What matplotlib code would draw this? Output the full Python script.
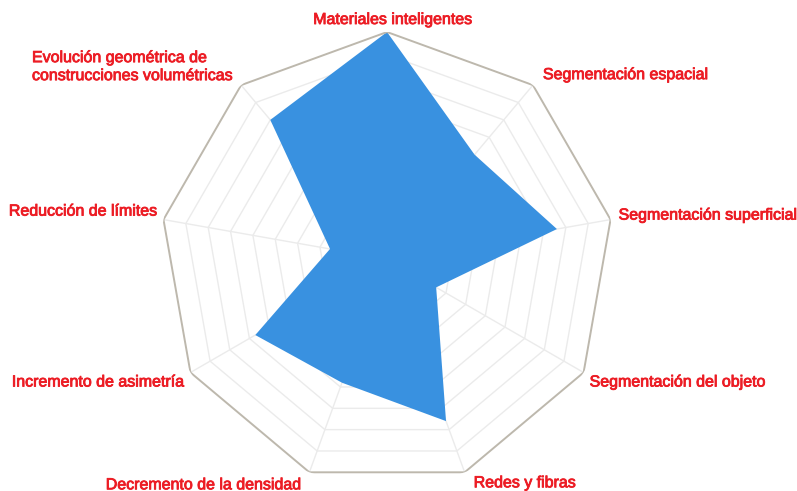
import numpy as np
import matplotlib
matplotlib.use("Agg")
import matplotlib.pyplot as plt
import matplotlib.patheffects as pe

categories = [
    "Materiales inteligentes",
    "Segmentación espacial",
    "Segmentación superficial",
    "Segmentación del objeto",
    "Redes y fibras",
    "Decremento de la densidad",
    "Incremento de asimetría",
    "Reducción de límites",
    "Evolución geométrica de\nconstrucciones volumétricas",
]
values = [10.0, 6.0, 7.6, 2.5, 7.6, 5.8, 6.7, 2.55, 8.0]
levels = list(range(1, 11))
max_value = 10

# label placement (ha, va, dx px, dy px)
label_style = [
    ("center", "baseline", 6, 8),
    ("left", "baseline", 10, 6),
    ("left", "baseline", 8, 0),
    ("left", "baseline", 6, -14),
    ("left", "baseline", 9, -15),
    ("right", "baseline", -8, -17),
    ("right", "baseline", -6, -14),
    ("right", "baseline", -6, 4),
    ("right", "baseline", -8, 5),
]

plt.rcParams["font.family"] = ["Liberation Sans", "DejaVu Sans"]

fig = plt.figure(figsize=(7.97, 4.91), dpi=100)
ax = fig.add_axes([0.2008, 0.0102, 0.5696, 0.9246], projection="polar")
ax.set_theta_zero_location("N")
ax.set_theta_direction(-1)

n = len(categories)
theta = np.linspace(0, 2 * np.pi, n, endpoint=False)
theta_c = np.concatenate([theta, theta[:1]])

# grid rings
for lv in levels:
    if lv == max_value:
        ax.plot(theta_c, [lv] * (n + 1), color="#bdb8ad", lw=1.4, zorder=3)
    else:
        ax.plot(theta_c, [lv] * (n + 1), color="#ebebeb", lw=1.0, zorder=1)
# spokes
for t in theta:
    ax.plot([t, t], [0, max_value], color="#ebebeb", lw=1.0, zorder=1)

vals_c = values + values[:1]
ax.fill(theta_c, vals_c, color="#3991e0", lw=0, zorder=2)

ax.set_ylim(0, max_value)
ax.set_xticks([])
ax.set_yticks([])
ax.grid(False)
ax.spines["polar"].set_visible(False)
ax.patch.set_visible(False)

txt_color = "#ec1c24"
for t, lab, (ha, va, dx, dy) in zip(theta, categories, label_style):
    ax.annotate(lab, xy=(t, max_value), xytext=(dx, dy), textcoords="offset pixels",
                ha=ha, va=va, color=txt_color, fontsize=11.5,
                multialignment="left", linespacing=1.25, annotation_clip=False,
                path_effects=[pe.withStroke(linewidth=0.6, foreground=txt_color)])

fig.savefig("out.png", dpi=100)
